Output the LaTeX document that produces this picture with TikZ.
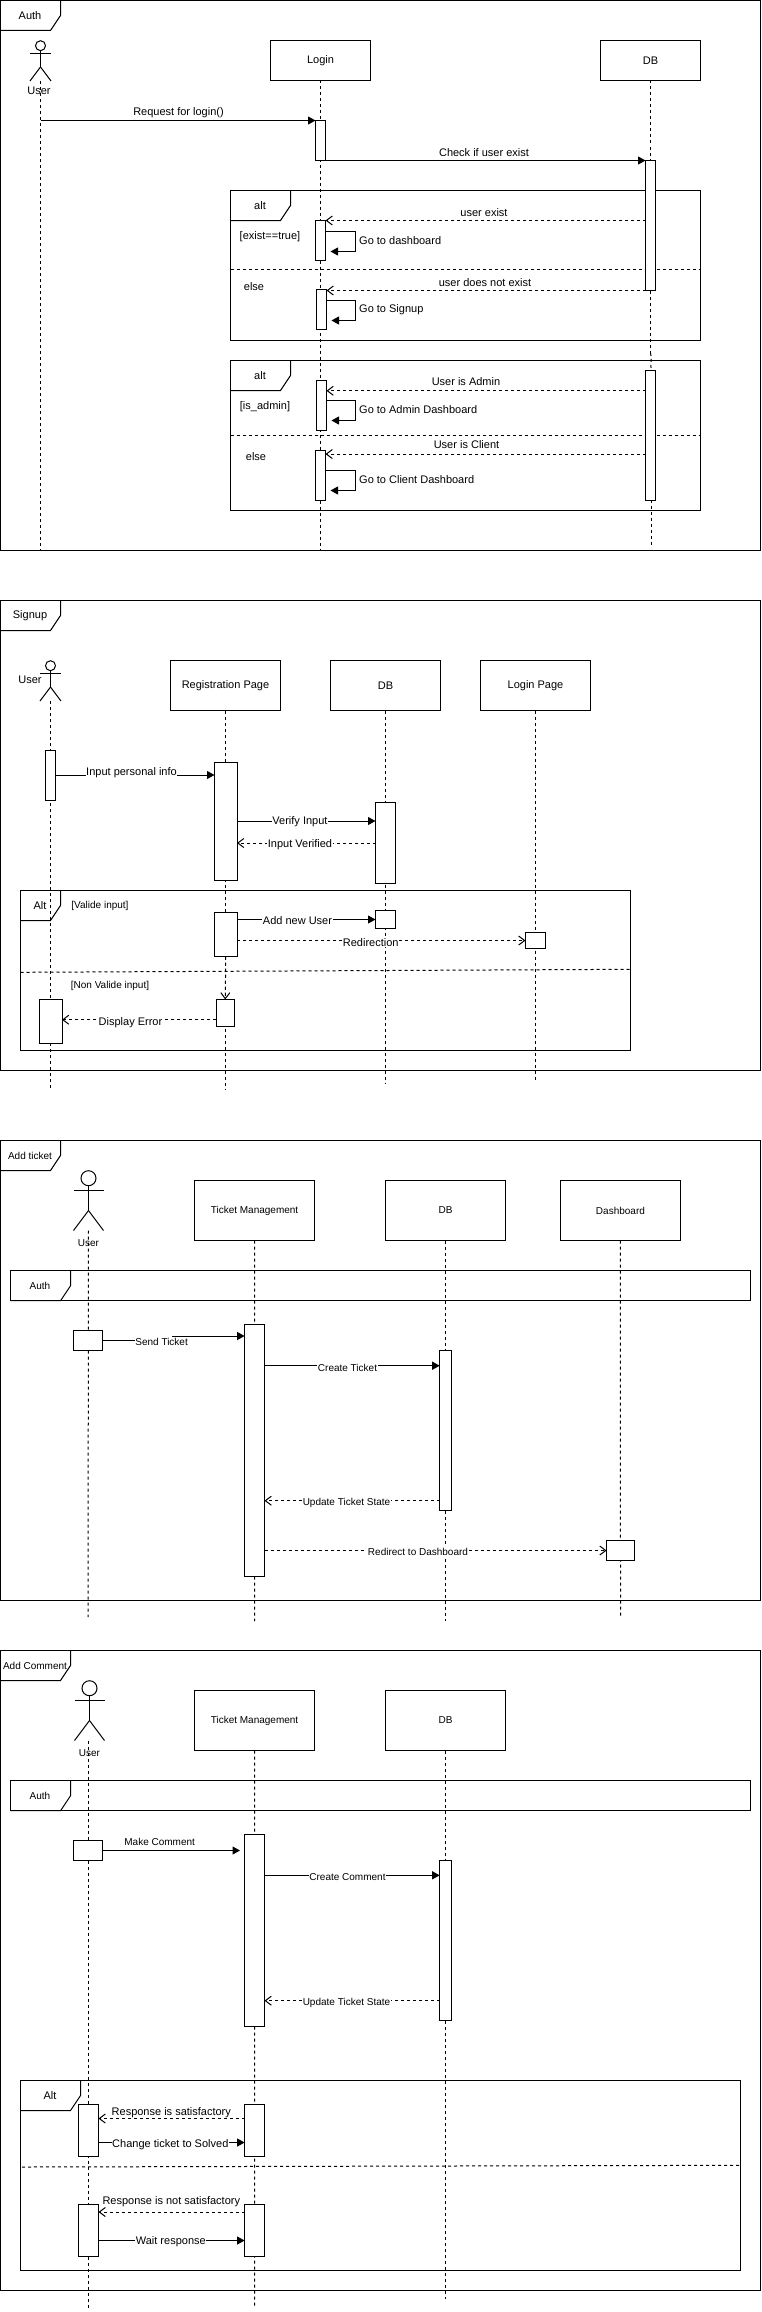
\documentclass[tikz,border=0pt]{standalone}
\usepackage{fontspec}
\setmainfont{Liberation Sans}
\usetikzlibrary{arrows.meta}
\tikzset{
  sd/.style={draw=black,line width=1pt},
  boxsty/.style={sd,fill=white,inner sep=0pt,outer sep=0pt,anchor=north west,align=center,font=\fontsize{11}{13}\selectfont},
  framesty/.style={sd,inner sep=0pt,outer sep=0pt,anchor=north west},
  tinybox/.style={font=\fontsize{10}{12}\selectfont},
  lifeline/.style={draw=black,line width=1pt,dash pattern=on 3pt off 3pt},
  divider/.style={draw=black,line width=1pt,dash pattern=on 3pt off 3pt},
  tabline/.style={draw=black,line width=1pt},
  actorline/.style={draw=black,line width=1pt},
  syncmsg/.style={draw=black,line width=1pt,-{Triangle[length=7.5pt,width=8pt]}},
  replymsg/.style={draw=black,line width=1pt,dash pattern=on 3pt off 3pt,-{Straight Barb[length=6pt,width=9pt,line width=1pt]}},
  txt/.style={inner sep=0pt,yshift=-1.2pt,font=\fontsize{11}{13}\selectfont},
  txtsmall/.style={inner sep=0pt,font=\fontsize{10}{12}\selectfont},
  onln/.style={txt,fill=white,inner sep=0.6pt},
  onlnsmall/.style={txtsmall,fill=white,inner sep=0.6pt},
}
\newcommand{\sdbox}[7][]{%
  \pgfmathsetmacro{\sdW}{#5-#3}\pgfmathsetmacro{\sdH}{#6-#4}%
  \node[boxsty,#1,minimum width=\sdW pt,minimum height=\sdH pt] (#2) at (#3,#4) {#7};}
\newcommand{\sdframe}[6]{%
  \pgfmathsetmacro{\sdW}{#4-#2}\pgfmathsetmacro{\sdH}{#5-#3}%
  \node[framesty,minimum width=\sdW pt,minimum height=\sdH pt] (#1) at (#2,#3) {};
  \draw[tabline] (#1.north west) ++(#6,0) -- ++(0,15) -- ++(-10,15) -- ++(-#6+10,0);}
% name, cx, top of head, head diameter, half arm, arm y, body end y, leg end y
\newcommand{\sdactor}[8]{%
  \node[draw=black,line width=1pt,circle,inner sep=0pt,outer sep=0pt,minimum size=#4pt,anchor=north] (#1) at (#2,#3) {};
  \coordinate (#1hip) at (#2,#7);
  \coordinate (#1foot) at (#2,#8);
  \draw[actorline] (#1.south) -- (#1hip);
  \draw[actorline] (#1hip |- 0,#6) ++(-#5,0) -- ++(2*#5,0);
  \draw[actorline] (#1hip) -- ++(-#5,#8-#7);
  \draw[actorline] (#1hip) -- ++(#5,#8-#7);}
\begin{document}
\begin{tikzpicture}[x=1pt,y=-1pt]
\useasboundingbox (0,0) rectangle (761,2312);
\fill[white] (0,0) rectangle (761,2312);

%% ===== Auth =====
\sdframe{fA}{0.5}{0.5}{760.5}{550.5}{60}
\node[txt] (fAt) at (30,14.5) {Auth};
\sdframe{altA}{230.5}{190.5}{700.5}{340.5}{60}
\node[txt] (altAt) at (260,204.5) {alt};
\coordinate (dA1) at (230.5,269.5); \coordinate (dA2) at (700.5,269.5);
\draw[divider] (dA1) -- (dA2);
\node[txt] (gA1) at (270,235) {[exist==true]};
\node[txt] (gA2) at (254,285) {else};
\sdframe{altB}{230.5}{360.5}{700.5}{510.5}{60}
\node[txt] (altBt) at (260,374.5) {alt};
\coordinate (dB1) at (230.5,435.5); \coordinate (dB2) at (700.5,435.5);
\draw[divider] (dB1) -- (dB2);
\node[txt] (gB1) at (265,405) {[is\_admin]};
\node[txt] (gB2) at (256,455) {else};

\sdactor{uA}{40.5}{40.7}{10}{10.5}{53.5}{67}{81}
\node[txt] (uAt) at (39,89.5) {User};
\sdbox{login}{270.5}{40.5}{370.5}{80.5}{Login}
\sdbox{dbA}{600.5}{40.5}{700.5}{80.5}{DB}
\coordinate (uAe) at (40.5,550);
\coordinate (loginE) at (320.5,550);
\coordinate (dbAw1) at (650.5,353);
\coordinate (dbAw2) at (651.2,370);
\coordinate (dbAl1) at (651.7,500);
\coordinate (dbAl2) at (651.7,548);
\draw[lifeline] (uAfoot) -- (uAe);
\draw[lifeline] (login.south) -- (loginE);
\draw[lifeline] (dbA.south) -- (dbAw1);
\draw[lifeline] (dbAw1) .. controls (652.5,359) and (650,364) .. (dbAw2);
\draw[lifeline] (dbAl1) -- (dbAl2);

\sdbox{aL1}{315.5}{120.5}{325.5}{160.5}{}
\sdbox{aD1}{645.5}{160.5}{655.5}{290.5}{}
\sdbox{aL2}{315.5}{220.5}{325.5}{260.5}{}
\sdbox{aL3}{316.5}{289.5}{326.5}{329.5}{}
\sdbox{aD2}{645.5}{370.5}{655.5}{500.5}{}
\sdbox{aL4}{316.5}{380.5}{326.5}{430.5}{}
\sdbox{aL5}{315.5}{450.5}{325.5}{500.5}{}

\draw[syncmsg] (uAhip |- 0,120.5) -- (aL1.west |- 0,120.5);
\node[txt] (mA1) at (178.5,111) {Request for login()};
\draw[syncmsg] (aL1.east |- 0,160.5) -- (aD1.west |- 0,160.5);
\node[txt] (mA2) at (484,151) {Check if user exist};
\draw[replymsg] (aD1.west |- 0,220.5) -- (aL2.east |- 0,220.5);
\node[txt] (mA3) at (484,211) {user exist};
\draw[syncmsg,shorten >=5pt] (aL2.east |- 0,231.5) -- ++(30,0) -- ++(0,20) -- (aL2.east |- 0,251.5);
\node[txt,anchor=west] (mA4) at (359,239) {Go to dashboard};
\draw[replymsg] (aD1.west |- 0,290.5) -- (aL3.east |- 0,290.5);
\node[txt] (mA5) at (485,281) {user does not exist};
\draw[syncmsg,shorten >=5pt] (aL3.east |- 0,300.5) -- ++(29,0) -- ++(0,20) -- (aL3.east |- 0,320.5);
\node[txt,anchor=west] (mA6) at (359,308) {Go to Signup};
\draw[replymsg] (aD2.west |- 0,390.8) -- (aL4.east |- 0,390.8);
\node[txt] (mA7) at (466,380) {User is Admin};
\draw[syncmsg,shorten >=5pt] (aL4.east |- 0,400.5) -- ++(29,0) -- ++(0,20) -- (aL4.east |- 0,420.5);
\node[txt,anchor=west] (mA8) at (359,408) {Go to Admin Dashboard};
\draw[replymsg] (aD2.west |- 0,454) -- (aL5.east |- 0,454);
\node[txt] (mA9) at (466.5,443) {User is Client};
\draw[syncmsg,shorten >=5pt] (aL5.east |- 0,470.5) -- ++(30,0) -- ++(0,20) -- (aL5.east |- 0,490.5);
\node[txt,anchor=west] (mA10) at (359,478) {Go to Client Dashboard};

%% ===== Signup =====
\sdframe{fS}{0.5}{600.5}{760.5}{1070.5}{60}
\node[txt] (fSt) at (30,614.7) {Signup};
\sdframe{altS}{20.5}{890.5}{630.5}{1050.5}{40}
\node[txt] (altSt) at (40,904) {Alt};
\coordinate (dS1) at (20.5,972.3); \coordinate (dS2) at (630.5,969.3);
\draw[divider] (dS1) -- (dS2);
\node[txtsmall] (gS1) at (100,905.7) {[Valide input]};
\node[txtsmall] (gS2) at (110,986) {[Non Valide input]};

\sdactor{uS}{50.5}{660.7}{10}{10.5}{673.5}{687}{701}
\node[txt] (uSt) at (30,679) {User};
\sdbox{reg}{170.5}{660.5}{280.5}{710.5}{Registration Page}
\sdbox{dbS}{330.5}{660.5}{440.5}{710.5}{DB}
\sdbox{logS}{480.5}{660.5}{590.5}{710.5}{Login Page}
\coordinate (uSe) at (50.5,1090);
\coordinate (regE) at (225.5,1090);
\coordinate (dbSE) at (385.5,1083);
\coordinate (logSE) at (535.5,1080);
\draw[lifeline] (uSfoot) -- (uSe);
\draw[lifeline] (reg.south) -- (regE);
\draw[lifeline] (dbS.south) -- (dbSE);
\draw[lifeline] (logS.south) -- (logSE);

\sdbox{sU1}{45.5}{750.5}{55.5}{800.5}{}
\sdbox{sR1}{214.5}{762.7}{237}{880.5}{}
\sdbox{sD1}{375.5}{802.5}{395.5}{883}{}
\sdbox{sR2}{214.5}{912.7}{237}{956.7}{}
\sdbox{sD2}{375.5}{910.5}{395.5}{928.5}{}
\sdbox{sL1}{525.5}{932.5}{545.5}{948}{}
\sdbox{sR3}{216}{999.5}{234.5}{1026.5}{}
\sdbox{sU2}{39}{999.5}{62}{1043.5}{}

\draw[syncmsg] (sU1.east |- 0,775) -- (sR1.west |- 0,775);
\node[onln] (mS1) at (131.5,771) {Input personal info};
\draw[syncmsg] (sR1.east |- 0,821) -- (sD1.west |- 0,821);
\node[onln] (mS2) at (300,820) {Verify Input};
\draw[replymsg] (sD1.west |- 0,843) -- (sR1.east |- 0,843);
\node[onln] (mS3) at (300,843) {Input Verified};
\draw[syncmsg] (sR2.east |- 0,919.5) -- (sD2.west |- 0,919.5);
\node[onln] (mS4) at (297.5,919) {Add new User};
\draw[replymsg] (sR2.east |- 0,940.5) -- (sL1.west |- 0,940.5);
\node[onln] (mS5) at (370.7,941) {Redirection};
\draw[replymsg] (sR2.south) -- (sR3.north);
\draw[replymsg] (sR3.west |- 0,1019.7) -- (sU2.east |- 0,1019.7);
\node[onln] (mS6) at (130.5,1021) {Display Error};

%% ===== Add ticket =====
\sdframe{fT}{0.5}{1140.5}{760.5}{1600.5}{60}
\node[txtsmall] (fTt) at (30,1155.7) {Add ticket};
\sdframe{authT}{10.7}{1270.5}{750.3}{1300.5}{60}
\node[txtsmall] (authTt) at (40,1285.7) {Auth};

\sdactor{uT}{88.5}{1170.7}{15}{15}{1190.5}{1210.5}{1230.5}
\node[txtsmall] (uTt) at (88.5,1242.7) {User};
\sdbox[tinybox]{tmT}{194.6}{1180.5}{314.5}{1240.5}{Ticket Management}
\sdbox[tinybox]{dbT}{385.3}{1180.5}{505.7}{1240.5}{DB}
\sdbox[tinybox]{dsT}{560.5}{1180.5}{680.4}{1240.5}{Dashboard}
\coordinate (uTe) at (88,1617);
\coordinate (tmTe) at (254.5,1621);
\coordinate (dbTe) at (445.5,1621);
\coordinate (dsTe) at (620.5,1617);
\draw[lifeline] (uTfoot) -- (uTe);
\draw[lifeline] (tmT.south) -- (tmTe);
\draw[lifeline] (dbT.south) -- (dbTe);
\draw[lifeline] (dsT.south) -- (dsTe);

\sdbox{tU}{73.8}{1330.5}{102.4}{1350.5}{}
\sdbox{tM}{244.6}{1324.5}{264.5}{1576.5}{}
\sdbox{tD}{439.7}{1350.5}{451.3}{1510.5}{}
\sdbox{tS}{606.6}{1540.5}{634.3}{1560.5}{}

\draw[syncmsg] (tU.east |- 0,1340.5) -- (172.8,1340.5) -- (172.8,1336) -- (tM.west |- 0,1336);
\node[onlnsmall] (mT1) at (161.6,1341.7) {Send Ticket};
\draw[syncmsg] (tM.east |- 0,1365.7) -- (tD.west |- 0,1365.7);
\node[onlnsmall] (mT2) at (347.5,1367.7) {Create Ticket};
\draw[replymsg] (tD.west |- 0,1500.7) -- (tM.east |- 0,1500.7);
\node[onlnsmall] (mT3) at (346.5,1502.7) {Update Ticket State};
\draw[replymsg] (tM.east |- 0,1550.5) -- (tS.west |- 0,1550.5);
\node[onlnsmall] (mT4) at (418,1551.7) {Redirect to Dashboard};

%% ===== Add Comment =====
\sdframe{fC}{0.5}{1650.5}{760.5}{2290.5}{70}
\node[txtsmall] (fCt) at (35,1665.7) {Add Comment};
\sdframe{authC}{10.7}{1780.5}{750.3}{1810.5}{60}
\node[txtsmall] (authCt) at (40,1795.7) {Auth};
\sdframe{altC}{20.5}{2080.5}{740.6}{2270.5}{60}
\node[txt] (altCt) at (50,2094.7) {Alt};
\coordinate (dC1) at (22,2167); \coordinate (dC2) at (740.6,2165.3);
\draw[divider] (dC1) -- (dC2);

\sdactor{uC}{89.5}{1680.7}{15}{15}{1700.5}{1720.5}{1740.5}
\node[txtsmall] (uCt) at (89.5,1752.7) {User};
\sdbox[tinybox]{tmC}{194.6}{1690.5}{314.5}{1750.5}{Ticket Management}
\sdbox[tinybox]{dbC}{385.3}{1690.5}{505.7}{1750.5}{DB}
\coordinate (uCs) at (88.5,1740.5);
\coordinate (uCe) at (88.5,2308);
\coordinate (tmCe) at (254.5,2308);
\coordinate (dbCe) at (445.5,2299);
\draw[lifeline] (uCs) -- (uCe);
\draw[lifeline] (tmC.south) -- (tmCe);
\draw[lifeline] (dbC.south) -- (dbCe);

\sdbox{cU}{73.8}{1840.5}{102.4}{1860.5}{}
\sdbox{cM}{244.6}{1834.5}{264.5}{2026.5}{}
\sdbox{cD}{439.7}{1860.5}{451.3}{2020.5}{}
\sdbox{cU1}{78.6}{2104.5}{98.5}{2156.5}{}
\sdbox{cM1}{244.6}{2104.5}{264.5}{2156.5}{}
\sdbox{cU2}{78.6}{2204.5}{98.5}{2256.5}{}
\sdbox{cM2}{244.6}{2204.5}{264.5}{2256.5}{}

\coordinate (cMk) at (240,1850.5);
\draw[syncmsg] (cU.east |- 0,1850.5) -- (cMk);
\node[txtsmall] (mC1) at (159.7,1841.7) {Make Comment};
\draw[syncmsg] (cM.east |- 0,1875.3) -- (cD.west |- 0,1875.3);
\node[onlnsmall] (mC2) at (347.5,1876.7) {Create Comment};
\draw[replymsg] (cD.west |- 0,2000.7) -- (cM.east |- 0,2000.7);
\node[onlnsmall] (mC3) at (346.5,2002.7) {Update Ticket State};
\draw[replymsg] (cM1.west |- 0,2118.5) -- (cU1.east |- 0,2118.5);
\node[txt] (mC4) at (171.3,2111.3) {Response is satisfactory};
\draw[syncmsg] (cU1.east |- 0,2142.5) -- (cM1.west |- 0,2142.5);
\node[onln] (mC5) at (170.3,2143.3) {Change ticket to Solved};
\draw[replymsg] (cM2.west |- 0,2212) -- (cU2.east |- 0,2212);
\node[txt] (mC6) at (171.3,2200.3) {Response is not satisfactory};
\draw[syncmsg] (cU2.east |- 0,2240.5) -- (cM2.west |- 0,2240.5);
\node[onln] (mC7) at (170.8,2240.3) {Wait response};
\end{tikzpicture}
\end{document}
